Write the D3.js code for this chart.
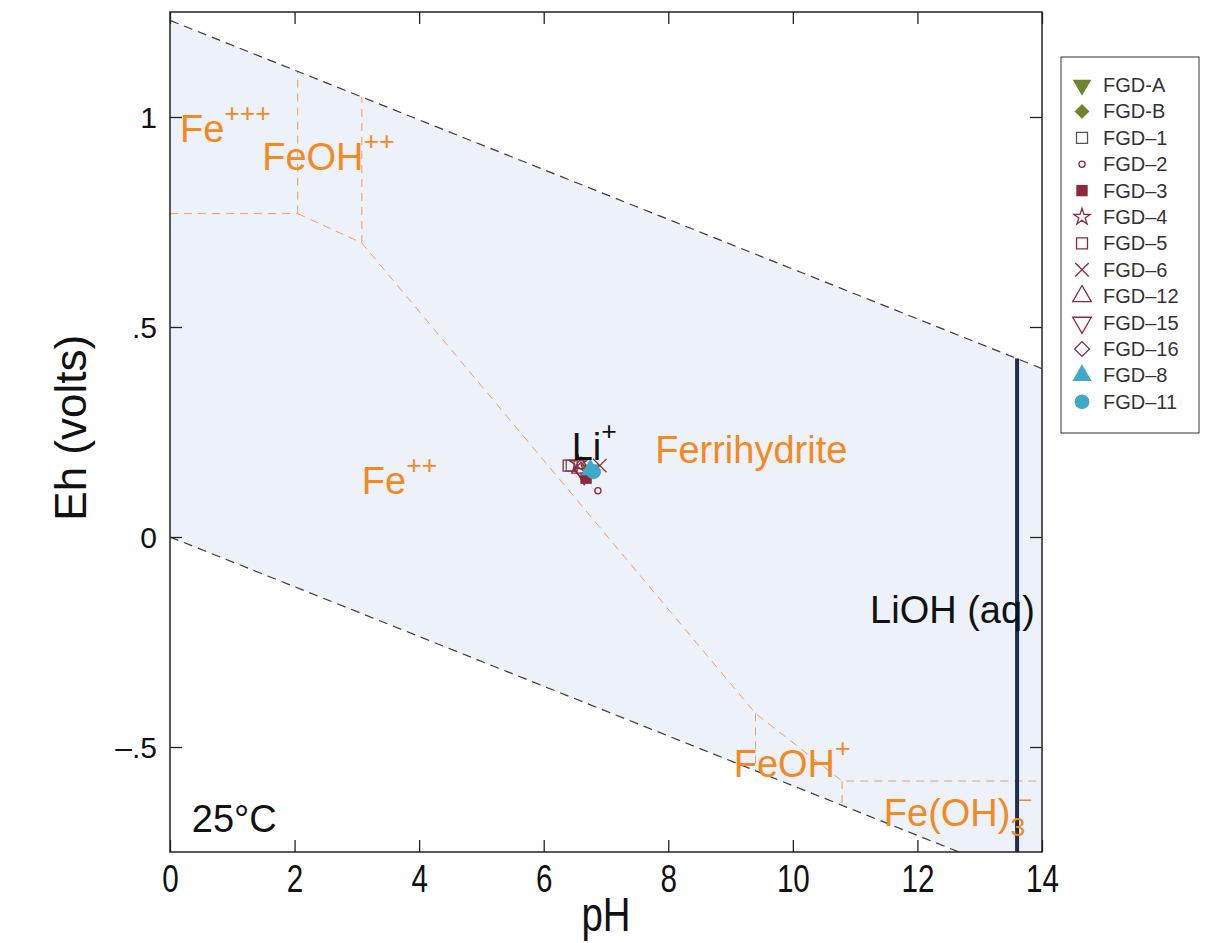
<!DOCTYPE html>
<html lang="en">
<head>
<meta charset="utf-8">
<title>Eh-pH diagram</title>
<script src="https://cdn.jsdelivr.net/npm/d3@7"></script>
<style>
  body { margin: 0; background: #fff; }
  text { font-family: "Liberation Sans", Arial, sans-serif; }
</style>
</head>
<body>
<svg width="1205" height="943"></svg>
<script>

// samples (legend order)
const sampleNames = ["FGD-A", "FGD-B", "FGD\u20131", "FGD\u20132", "FGD\u20133", "FGD\u20134", "FGD\u20135",
  "FGD\u20136", "FGD\u201312", "FGD\u201315", "FGD\u201316", "FGD\u20138", "FGD\u201311"];
const samplePH = [6.75, 6.8, 6.45, 6.87, 6.68, 6.55, 6.4, 6.9, 6.6, 6.65, 6.6, 6.75, 6.8];
const sampleEh = [0.16, 0.155, 0.17, 0.11, 0.14, 0.175, 0.17, 0.17, 0.165, 0.15, 0.16, 0.16, 0.155];

// axis ticks
const xTicks = [0, 2, 4, 6, 8, 10, 12, 14];
const yTicks = [-0.5, 0, 0.5, 1];
const yTickLabels = ["\u2013.5", "0", ".5", "1"];

// water stability limits
const upperWaterPH = [0, 14];
const upperWaterEh = [1.23, 0.401];
const lowerWaterPH = [0, 14];
const lowerWaterEh = [0, -0.829];

// Fe field boundaries (pH, Eh)
const feBoundaries = [
  [[0, 0.77], [2.05, 0.77]],
  [[2.05, 0.77], [2.05, 1.109]],
  [[2.05, 0.77], [3.08, 0.70], [9.4, -0.42], [10.79, -0.581], [14, -0.581]],
  [[3.08, 0.70], [3.08, 1.048]],
  [[9.4, -0.42], [9.4, -0.556]],
  [[10.79, -0.581], [10.79, -0.639]]
];

// Li boundary LiOH(aq) / Li+
const liohPH = 13.6;
const liohEh = [0.425, -0.75];

const W = 1205, H = 943;
const margin = {left: 170, right: 163, top: 12, bottom: 91};
const x = d3.scaleLinear().domain([0, 14]).range([margin.left, W - margin.right]);
const y = d3.scaleLinear().domain([-0.75, 1.25]).range([H - margin.bottom, margin.top]);

const svg = d3.select("svg");
const orange = "#f5891f";

svg.append("clipPath").attr("id", "plot")
  .append("rect")
  .attr("x", x(0)).attr("y", y(1.25))
  .attr("width", x(14) - x(0)).attr("height", y(-0.75) - y(1.25));

const g = svg.append("g").attr("clip-path", "url(#plot)");

// shaded stability region
const poly = upperWaterPH.map((p, i) => [x(p), y(upperWaterEh[i])])
  .concat(lowerWaterPH.map((p, i) => [x(p), y(lowerWaterEh[i])]).reverse());
g.append("polygon")
  .attr("points", poly.map(d => d.join(",")).join(" "))
  .attr("fill", "#edf2fa");

const line = d3.line().x(d => x(d[0])).y(d => y(d[1]));

// Fe boundaries
g.selectAll("path.fe").data(feBoundaries).enter().append("path")
  .attr("class", "fe")
  .attr("d", line)
  .attr("fill", "none")
  .attr("stroke", "#e6a45a")
  .attr("stroke-width", 1)
  .attr("stroke-dasharray", "8,6");

// water lines
[[upperWaterPH, upperWaterEh], [lowerWaterPH, lowerWaterEh]].forEach(function(w) {
  g.append("path")
    .attr("d", line(w[0].map((p, i) => [p, w[1][i]])))
    .attr("fill", "none")
    .attr("stroke", "#3a3a3a")
    .attr("stroke-width", 1.2)
    .attr("stroke-dasharray", "9,6");
});

// LiOH line
g.append("line")
  .attr("x1", x(liohPH)).attr("x2", x(liohPH))
  .attr("y1", y(liohEh[0])).attr("y2", y(liohEh[1]))
  .attr("stroke", "#1f2f4f")
  .attr("stroke-width", 4);

// marker styles
const olive = "#6e8530", maroon = "#8c2a3c", teal = "#3fa9c9";
const markers = [
  {type: d3.symbolTriangle, size: 150, fill: olive, stroke: "none", rot: 180},
  {type: d3.symbolSquare, size: 110, fill: olive, stroke: "none", rot: 45},
  {type: d3.symbolSquare, size: 120, fill: "none", stroke: "#555", rot: 0},
  {type: d3.symbolCircle, size: 30, fill: "none", stroke: maroon, rot: 0},
  {type: d3.symbolSquare, size: 130, fill: maroon, stroke: "none", rot: 0},
  {type: d3.symbolStar, size: 85, fill: "none", stroke: maroon, rot: 0},
  {type: d3.symbolSquare, size: 120, fill: "none", stroke: maroon, rot: 0},
  {type: d3.symbolTimes, size: 120, fill: "none", stroke: maroon, rot: 0},
  {type: d3.symbolTriangle, size: 150, fill: "none", stroke: maroon, rot: 0},
  {type: d3.symbolTriangle, size: 150, fill: "none", stroke: maroon, rot: 180},
  {type: d3.symbolSquare, size: 110, fill: "none", stroke: maroon, rot: 45},
  {type: d3.symbolTriangle, size: 160, fill: teal, stroke: "none", rot: 0},
  {type: d3.symbolCircle, size: 170, fill: teal, stroke: "none", rot: 0}
];

function drawMarker(sel, m) {
  sel.append("path")
    .attr("d", d3.symbol().type(m.type).size(m.size)())
    .attr("transform", "rotate(" + m.rot + ")")
    .attr("fill", m.fill)
    .attr("stroke", m.stroke)
    .attr("stroke-width", 1.3);
}

// data points
sampleNames.forEach(function(n, i) {
  const p = g.append("g").attr("transform", "translate(" + x(samplePH[i]) + "," + y(sampleEh[i]) + ")");
  drawMarker(p, markers[i]);
});

// labels
function label(px, eh, parts, color, fs) {
  const t = svg.append("text")
    .attr("x", x(px)).attr("y", y(eh))
    .attr("fill", color)
    .attr("font-size", fs);
  parts.forEach(function(pt) {
    const ts = t.append("tspan").text(pt.s);
    if (pt.sup) ts.attr("font-size", fs * 0.7).attr("dy", pt.dy);
    else if (pt.dy) ts.attr("dy", pt.dy);
    if (pt.dx) ts.attr("dx", pt.dx);
  });
  return t;
}

label(0.16, 0.94, [{s: "Fe"}, {s: "+++", sup: true, dy: -20}], orange, 38);
label(1.48, 0.874, [{s: "FeOH"}, {s: "++", sup: true, dy: -20}], orange, 38);
label(3.08, 0.102, [{s: "Fe"}, {s: "++", sup: true, dy: -20}], orange, 38);
label(7.79, 0.176, [{s: "Ferrihydrite"}], orange, 38);
label(9.05, -0.571, [{s: "FeOH"}, {s: "+", sup: true, dy: -20}], orange, 38);
label(11.46, -0.688, [{s: "Fe(OH)"}, {s: "3", sup: true, dy: 10}], orange, 38);
svg.append("text").attr("x", x(13.63)).attr("y", y(-0.64))
  .attr("fill", orange).attr("font-size", 22).text("\u2013");
label(11.24, -0.205, [{s: "LiOH (aq)"}], "#111", 38);
label(6.45, 0.183, [{s: "Li"}, {s: "+", sup: true, dy: -20}], "#111", 38);
label(0.35, -0.702, [{s: "25\u00b0C"}], "#111", 38);

// frame
svg.append("rect")
  .attr("x", x(0)).attr("y", y(1.25))
  .attr("width", x(14) - x(0)).attr("height", y(-0.75) - y(1.25))
  .attr("fill", "none").attr("stroke", "#222").attr("stroke-width", 1.5);

// axes with inward ticks on all sides
const tl = 12;
svg.append("g").attr("transform", "translate(0," + y(-0.75) + ")")
  .call(d3.axisBottom(x).tickValues(xTicks).tickSize(-tl).tickFormat(d => d))
  .call(a => a.select(".domain").remove())
  .call(a => a.selectAll("text").attr("dy", 0).attr("y", 40)
    .attr("transform", "scale(0.78,1)")
    .attr("font-size", 38).attr("fill", "#111"));
svg.append("g").attr("transform", "translate(0," + y(1.25) + ")")
  .call(d3.axisTop(x).tickValues(xTicks).tickSize(-tl).tickFormat(""))
  .call(a => a.select(".domain").remove());
svg.append("g").attr("transform", "translate(" + x(0) + ",0)")
  .call(d3.axisLeft(y).tickValues(yTicks).tickSize(-tl).tickFormat((d, i) => yTickLabels[i]))
  .call(a => a.select(".domain").remove())
  .call(a => a.selectAll("text").attr("x", -13).attr("dy", "0.36em")
    .attr("font-size", 30).attr("fill", "#111"));
svg.append("g").attr("transform", "translate(" + x(14) + ",0)")
  .call(d3.axisRight(y).tickValues(yTicks).tickSize(-tl).tickFormat(""))
  .call(a => a.select(".domain").remove());
svg.selectAll(".tick line").attr("stroke", "#222").attr("stroke-width", 1.3);

// axis titles
svg.append("text")
  .attr("transform", "translate(" + ((x(0) + x(14)) / 2) + ",931) scale(0.8,1)")
  .attr("text-anchor", "middle")
  .attr("font-size", 48)
  .attr("fill", "#111")
  .text("pH");
svg.append("text")
  .attr("transform", "translate(86," + y(0.26) + ") rotate(-90)")
  .attr("text-anchor", "middle")
  .attr("font-size", 44)
  .attr("fill", "#111")
  .text("Eh (volts)");

// legend
const lg = svg.append("g");
lg.append("rect")
  .attr("x", 1061).attr("y", 57).attr("width", 138).attr("height", 376)
  .attr("fill", "#fff").attr("stroke", "#333").attr("stroke-width", 1);
sampleNames.forEach(function(n, i) {
  const yy = 85 + i * 26.4;
  const p = lg.append("g").attr("transform", "translate(1082," + yy + ")");
  drawMarker(p, markers[i]);
  lg.append("text")
    .attr("x", 1103).attr("y", yy + 7)
    .attr("font-size", 20)
    .attr("fill", "#333")
    .text(n);
});

</script>
</body>
</html>
